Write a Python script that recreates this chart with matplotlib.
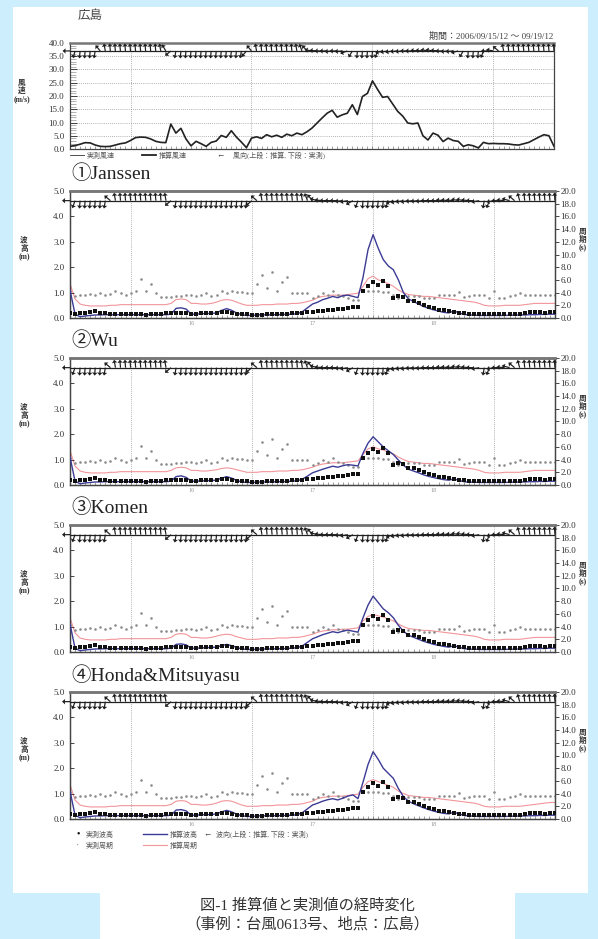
import numpy as np
import matplotlib.pyplot as plt
from matplotlib.patches import Rectangle
from matplotlib.ticker import MultipleLocator, FormatStrFormatter

plt.rcParams['font.family'] = ['Liberation Serif', 'Noto Sans CJK JP']

# time axis: hours from 2006/09/15 12:00
hours = list(range(97))
day_lines = [12, 36, 60, 84]
day_ticks = [24, 48, 72]
day_labels = ['16', '17', '18']

wind_speed = [1.0, 1.3, 1.8, 2.4, 2.3, 1.5, 1.0, 0.9, 1.0, 1.5,
              2.0, 2.3, 3.2, 4.3, 4.5, 4.4, 3.8, 2.9, 2.5, 2.4,
              9.4, 6.0, 7.8, 3.8, 1.2, 2.9, 2.0, 1.0, 2.5, 3.0,
              5.1, 4.4, 6.9, 4.5, 2.6, 0.5, 4.1, 4.6, 4.0, 5.4,
              4.6, 5.2, 4.4, 5.6, 5.0, 6.0, 5.4, 6.5, 7.9, 9.8,
              11.7, 13.5, 14.6, 12.0, 12.9, 13.5, 16.7, 13.0, 19.8, 21.0,
              25.7, 22.5, 19.5, 19.8, 17.0, 14.2, 12.4, 9.8, 9.5, 9.8,
              5.0, 3.4, 6.0, 5.2, 2.8, 4.1, 3.2, 2.9, 1.0, 1.6,
              1.2, 0.4, 2.5, 2.0, 2.1, 2.0, 2.0, 1.9, 1.6, 1.5,
              2.0, 2.5, 3.5, 4.5, 5.4, 5.0, 1.0]

# arrow directions (screen degrees the arrow points to)
wind_dir = [180,
            255, 265, 265, 265, 260,
            130, 100, 95, 95, 95, 95, 95, 95, 95, 95, 95, 95, 100, 120,
            220, 260, 265, 265, 265, 265, 265, 265, 265, 265, 265, 265, 265, 265, 260, 230,
            130, 100, 95, 95, 95, 95, 95, 95, 95, 100, 110, 130,
            170, 175, 180, 180, 185, 180, 185, 200,
            240, 265, 265, 265, 265, 250,
            195, 190, 190, 185, 185, 180, 180, 175, 175, 170, 170, 175, 180, 185, 185, 195,
            240, 265, 265, 265, 250,
            180, 170, 140,
            100, 95, 95, 95, 95, 95, 95, 95, 95, 95, 95]

wave_dir = [180,
            250, 265, 265, 265, 265, 265, 260,
            140,
            100, 95, 95, 95, 95, 95, 95, 95, 95, 95, 100,
            220,
            260, 265, 265, 265, 265, 265, 265, 265, 265, 265, 265, 265, 265, 265, 260,
            220, 140,
            100, 95, 95, 95, 95, 95, 95, 95, 100, 110, 130,
            165, 175, 180, 180, 180, 185, 190, 210,
            250, 265, 265, 265, 265, 265, 250,
            200, 195, 190, 190, 185, 185, 185, 180, 180, 180, 175, 175, 175, 170, 170, 175, 180, 190,
            260, 250,
            190, 180, 175, 165, 140,
            105, 95, 95, 95, 95, 95, 95, 95]

obs_height = [0.20, 0.17, 0.18, 0.20, 0.25, 0.28, 0.20, 0.18, 0.15, 0.15,
              0.14, 0.14, 0.15, 0.15, 0.14, 0.13, 0.14, 0.15, 0.16, 0.18,
              0.20, 0.20, 0.18, 0.18, 0.17, 0.16, 0.18, 0.18, 0.20, 0.21,
              0.24, 0.22, 0.20, 0.17, 0.15, 0.14, 0.12, 0.12, 0.13, 0.14,
              0.15, 0.15, 0.16, 0.17, 0.18, 0.18, 0.20, 0.22, 0.25, 0.26,
              0.28, 0.30, 0.32, 0.35, 0.37, 0.40, 0.42, 0.44, 1.05, 1.25,
              1.43, 1.28, 1.47, 1.26, 0.78, 0.85, 0.84, 0.68, 0.66, 0.60,
              0.50, 0.45, 0.38, 0.33, 0.30, 0.26, 0.24, 0.21, 0.18, 0.16,
              0.15, 0.15, 0.15, 0.15, 0.15, 0.15, 0.15, 0.15, 0.15, 0.15,
              0.18, 0.22, 0.22, 0.22, 0.21, 0.22, 0.22]

obs_period = [4.2, 3.4, 3.6, 3.7, 3.8, 3.6, 4.0, 3.7, 3.8, 4.2,
              3.9, 3.7, 3.9, 4.2, 6.1, 4.2, 5.3, 3.9, 3.3, 3.3,
              3.3, 3.5, 3.5, 3.7, 3.7, 3.5, 3.7, 3.9, 3.5, 3.7,
              4.2, 4.0, 4.2, 4.1, 4.1, 4.0, 4.0, 5.3, 6.7, 4.7,
              7.2, 4.2, 5.7, 6.5, 4.0, 4.0, 3.9, 3.9, 3.1, 3.4,
              3.9, 3.6, 4.2, 3.6, 3.4, 3.1, 2.9, 2.8, 4.2, 4.2,
              4.3, 4.2, 4.1, 4.1, 3.6, 3.1, 3.4, 3.4, 3.4, 3.4,
              3.2, 3.1, 3.2, 3.6, 3.6, 3.6, 3.7, 4.1, 3.3, 3.4,
              3.6, 3.6, 3.6, 3.2, 4.2, 3.2, 3.2, 3.4, 3.6, 3.9,
              3.6, 3.6, 3.6, 3.7, 3.6, 3.6, 3.6]

model_names = ['①Janssen', '②Wu', '③Komen', '④Honda&Mitsuyasu']

janssen_height = [1.10, 0.15, 0.05, 0.08, 0.10, 0.12, 0.12, 0.13, 0.13, 0.13,
                  0.13, 0.13, 0.13, 0.13, 0.13, 0.13, 0.13, 0.13, 0.13, 0.13,
                  0.15, 0.38, 0.40, 0.35, 0.15, 0.15, 0.17, 0.17, 0.18, 0.20,
                  0.30, 0.37, 0.30, 0.20, 0.13, 0.10, 0.10, 0.12, 0.13, 0.12,
                  0.13, 0.13, 0.14, 0.14, 0.15, 0.17, 0.25, 0.40, 0.55, 0.62,
                  0.72, 0.78, 0.85, 0.80, 0.88, 0.90, 0.85, 0.80, 1.60, 2.70,
                  3.28, 2.75, 2.30, 2.05, 1.90, 1.50, 1.00, 0.75, 0.65, 0.55,
                  0.45, 0.38, 0.32, 0.27, 0.22, 0.20, 0.28, 0.20, 0.14, 0.12,
                  0.11, 0.10, 0.10, 0.10, 0.10, 0.10, 0.10, 0.11, 0.11, 0.12,
                  0.12, 0.13, 0.13, 0.14, 0.14, 0.15, 0.15]
wu_height = [1.10, 0.15, 0.05, 0.08, 0.10, 0.12, 0.12, 0.13, 0.13, 0.13,
             0.13, 0.13, 0.13, 0.13, 0.13, 0.13, 0.13, 0.13, 0.13, 0.13,
             0.15, 0.33, 0.36, 0.30, 0.15, 0.15, 0.16, 0.17, 0.18, 0.19,
             0.27, 0.33, 0.27, 0.18, 0.12, 0.10, 0.10, 0.11, 0.12, 0.12,
             0.12, 0.13, 0.13, 0.14, 0.15, 0.17, 0.23, 0.35, 0.48, 0.55,
             0.62, 0.68, 0.74, 0.70, 0.76, 0.80, 0.78, 0.75, 1.25, 1.65,
             1.90, 1.70, 1.50, 1.35, 1.20, 0.98, 0.78, 0.62, 0.55, 0.48,
             0.40, 0.34, 0.29, 0.25, 0.21, 0.19, 0.24, 0.18, 0.13, 0.11,
             0.11, 0.10, 0.10, 0.10, 0.10, 0.10, 0.10, 0.11, 0.11, 0.12,
             0.12, 0.13, 0.13, 0.14, 0.14, 0.15, 0.15]
komen_height = [1.10, 0.15, 0.05, 0.08, 0.10, 0.12, 0.12, 0.13, 0.13, 0.13,
                0.13, 0.13, 0.13, 0.13, 0.13, 0.13, 0.13, 0.13, 0.13, 0.13,
                0.15, 0.30, 0.32, 0.28, 0.15, 0.15, 0.16, 0.17, 0.18, 0.19,
                0.25, 0.30, 0.25, 0.18, 0.12, 0.10, 0.10, 0.11, 0.12, 0.12,
                0.12, 0.13, 0.13, 0.14, 0.15, 0.17, 0.24, 0.38, 0.52, 0.60,
                0.68, 0.74, 0.80, 0.76, 0.82, 0.86, 0.82, 0.78, 1.35, 1.85,
                2.20, 1.95, 1.70, 1.55, 1.35, 1.05, 0.82, 0.66, 0.58, 0.50,
                0.42, 0.36, 0.30, 0.26, 0.22, 0.19, 0.25, 0.19, 0.13, 0.11,
                0.11, 0.10, 0.10, 0.10, 0.10, 0.10, 0.10, 0.11, 0.11, 0.12,
                0.12, 0.13, 0.13, 0.14, 0.14, 0.15, 0.15]
honda_height = [1.10, 0.15, 0.05, 0.08, 0.10, 0.12, 0.12, 0.13, 0.13, 0.13,
                0.13, 0.13, 0.13, 0.13, 0.13, 0.13, 0.13, 0.13, 0.13, 0.13,
                0.15, 0.35, 0.37, 0.32, 0.15, 0.15, 0.17, 0.17, 0.18, 0.20,
                0.28, 0.34, 0.28, 0.19, 0.13, 0.10, 0.10, 0.12, 0.13, 0.12,
                0.13, 0.13, 0.14, 0.14, 0.15, 0.17, 0.25, 0.40, 0.55, 0.62,
                0.70, 0.76, 0.80, 0.75, 0.82, 0.90, 0.95, 0.80, 1.45, 2.15,
                2.65, 2.35, 2.00, 1.80, 1.60, 1.20, 0.88, 0.70, 0.60, 0.52,
                0.44, 0.37, 0.31, 0.26, 0.22, 0.20, 0.27, 0.20, 0.14, 0.12,
                0.11, 0.10, 0.10, 0.10, 0.10, 0.10, 0.10, 0.11, 0.11, 0.12,
                0.12, 0.13, 0.13, 0.14, 0.14, 0.15, 0.15]

janssen_period = [5.4, 3.0, 2.2, 2.0, 1.9, 1.9, 1.9, 1.9, 2.0, 2.0,
                  2.1, 2.1, 2.1, 2.1, 2.1, 2.1, 2.1, 2.1, 2.1, 2.1,
                  2.3, 2.9, 3.0, 2.9, 2.3, 2.3, 2.2, 2.2, 2.3, 2.5,
                  2.8, 2.9, 2.8, 2.5, 2.2, 2.0, 2.0, 2.0, 2.1, 2.1,
                  2.1, 2.2, 2.2, 2.2, 2.3, 2.3, 2.4, 2.6, 2.8, 3.2,
                  3.4, 3.5, 3.6, 3.6, 3.6, 3.7, 3.8, 3.9, 5.0, 6.2,
                  6.6, 6.0, 5.8, 5.4, 5.0, 4.4, 4.0, 3.7, 3.6, 3.5,
                  3.4, 3.4, 3.3, 3.2, 3.1, 3.0, 2.9, 2.8, 2.7, 2.6,
                  2.5, 2.3, 2.0, 1.9, 1.9, 1.9, 2.0, 2.0, 2.0, 2.0,
                  2.1, 2.2, 2.3, 2.3, 2.3, 2.3, 2.3]
wu_period = [5.4, 3.0, 2.2, 2.0, 1.9, 1.9, 1.9, 1.9, 2.0, 2.0,
             2.1, 2.1, 2.1, 2.1, 2.1, 2.1, 2.1, 2.1, 2.1, 2.1,
             2.3, 2.7, 2.8, 2.7, 2.3, 2.3, 2.2, 2.2, 2.3, 2.4,
             2.6, 2.7, 2.6, 2.4, 2.2, 2.0, 2.0, 2.0, 2.1, 2.1,
             2.1, 2.2, 2.2, 2.2, 2.3, 2.3, 2.4, 2.6, 2.8, 3.1,
             3.3, 3.4, 3.5, 3.5, 3.5, 3.6, 3.7, 3.8, 4.8, 5.7,
             6.0, 5.7, 5.5, 5.2, 4.9, 4.4, 4.0, 3.7, 3.6, 3.5,
             3.4, 3.4, 3.3, 3.2, 3.1, 3.0, 2.9, 2.8, 2.7, 2.6,
             2.5, 2.3, 2.0, 1.9, 1.9, 1.9, 2.0, 2.0, 2.0, 2.0,
             2.1, 2.2, 2.3, 2.3, 2.3, 2.3, 2.3]
komen_period = [5.4, 3.0, 2.2, 2.0, 1.9, 1.9, 1.9, 1.9, 2.0, 2.0,
                2.1, 2.1, 2.1, 2.1, 2.1, 2.1, 2.1, 2.1, 2.1, 2.1,
                2.3, 2.8, 2.9, 2.8, 2.3, 2.3, 2.2, 2.2, 2.3, 2.5,
                2.7, 2.8, 2.7, 2.4, 2.2, 2.0, 2.0, 2.0, 2.1, 2.1,
                2.1, 2.2, 2.2, 2.2, 2.3, 2.3, 2.4, 2.6, 2.8, 3.1,
                3.3, 3.4, 3.5, 3.5, 3.6, 3.6, 3.7, 3.8, 4.9, 5.6,
                5.9, 5.7, 5.5, 5.2, 4.9, 4.4, 4.0, 3.7, 3.6, 3.5,
                3.4, 3.4, 3.3, 3.2, 3.1, 3.0, 2.9, 2.8, 2.7, 2.6,
                2.5, 2.3, 2.0, 1.9, 1.9, 1.9, 2.0, 2.0, 2.0, 2.0,
                2.1, 2.2, 2.3, 2.3, 2.3, 2.3, 2.3]
honda_period = [5.4, 3.0, 2.2, 2.0, 1.9, 1.9, 1.9, 1.9, 2.0, 2.0,
                2.1, 2.1, 2.1, 2.1, 2.1, 2.1, 2.1, 2.1, 2.1, 2.1,
                2.3, 2.8, 2.9, 2.8, 2.3, 2.3, 2.2, 2.2, 2.3, 2.5,
                2.8, 2.9, 2.8, 2.5, 2.2, 2.0, 2.0, 2.0, 2.1, 2.1,
                2.1, 2.2, 2.2, 2.2, 2.3, 2.3, 2.4, 2.6, 2.8, 3.2,
                3.4, 3.5, 3.6, 3.6, 3.6, 3.7, 3.8, 3.9, 5.0, 5.9,
                6.2, 5.9, 5.6, 5.3, 5.0, 4.4, 4.0, 3.7, 3.6, 3.5,
                3.4, 3.4, 3.3, 3.2, 3.1, 3.0, 2.9, 2.8, 2.7, 2.6,
                2.5, 2.3, 2.0, 1.9, 1.9, 1.9, 2.0, 2.0, 2.0, 2.0,
                2.1, 2.2, 2.3, 2.4, 2.5, 2.6, 2.6]

model_heights = [janssen_height, wu_height, komen_height, honda_height]
model_periods = [janssen_period, wu_period, komen_period, honda_period]

# ---- figure in pixel coordinates ----
W, H = 598, 939
fig = plt.figure(figsize=(W / 100, H / 100), dpi=100, facecolor='#cdeefd')


def box(l, t, r, b):
    return [l / W, 1 - b / H, (r - l) / W, (b - t) / H]


def ftext(x, y, s, **kw):
    fig.text(x / W, 1 - y / H, s, **kw)


def white(l, t, r, b):
    fig.add_artist(Rectangle((l / W, 1 - b / H), (r - l) / W, (b - t) / H,
                             transform=fig.transFigure, facecolor='white',
                             edgecolor='none', zorder=-5))


white(13, 7, 588, 893)
white(100, 890, 515, 939)

GRID = dict(color='#999999', lw=0.6, linestyle=(0, (1, 1.5)), zorder=1)


def arrows(ax, base, deg, length):
    ang = np.deg2rad(deg)
    u = length * np.cos(ang)
    v = length * np.sin(ang)
    ax.plot(hours, np.full(len(hours), base), color='#222222', lw=0.9, zorder=4)
    # thin shafts give the hatching, the wide heads merge into a heavy edge
    ax.quiver(hours, np.full(len(hours), base), u, v, angles='uv',
              scale_units='dots', scale=1, units='dots', width=1.2,
              headwidth=4.5, headlength=2.6, headaxislength=2.4, pivot='tail',
              color='#1e1e1e', zorder=4, clip_on=False)


def frame(ax):
    for s in ax.spines.values():
        s.set_color('#444444')
        s.set_linewidth(0.9)
    ax.spines['top'].set_linewidth(1.8)
    ax.spines['top'].set_color('#777777')


# ---- wind panel ----
ftext(78, 16, '広島', fontsize=9, color='#444444', va='center')
ftext(553, 36, '期間：2006/09/15/12 ～ 09/19/12', fontsize=6.5, color='#444444',
      ha='right', va='center')

axw = fig.add_axes(box(70, 43, 554, 149))
axw.plot(hours, wind_speed, color='#222222', lw=1.2, zorder=3)
arrows(axw, 37.0, wind_dir, 7.5)
axw.set_xlim(0, 96)
axw.set_ylim(0, 40)
for v in range(5, 40, 5):
    axw.axhline(v, **GRID)
for d in day_lines:
    axw.axvline(d, **GRID)
axw.yaxis.set_major_locator(MultipleLocator(5))
axw.yaxis.set_major_formatter(FormatStrFormatter('%.1f'))
axw.yaxis.set_minor_locator(MultipleLocator(1))
axw.tick_params(axis='y', which='major', direction='in', length=5, width=0.5,
                labelsize=6.5, labelcolor='#333333', pad=4)
axw.tick_params(axis='y', which='minor', direction='in', length=4, width=0.4,
                color='#777777')
axw.set_xticks([])
axw.set_xticks(hours, minor=True)
axw.tick_params(axis='x', which='minor', direction='in', length=2, width=0.4,
                color='#555555')
frame(axw)
ftext(22, 91, '風\n速\n(m/s)', fontsize=5.5, color='#333333', ha='center',
      va='center', linespacing=1.05, fontweight='bold')

# wind legend
lg_y = 155
fig.add_artist(plt.Line2D([70 / W, 84 / W], [1 - lg_y / H] * 2, color='#333333', lw=0.6))
ftext(87, lg_y, '実測風速', fontsize=5, color='#555555', va='center')
fig.add_artist(plt.Line2D([142 / W, 156 / W], [1 - lg_y / H] * 2, color='#222222', lw=1.3))
ftext(159, lg_y, '推算風速', fontsize=5, color='#555555', va='center')
ftext(216, lg_y, '←', fontsize=6, color='#222222', va='center')
ftext(233, lg_y, '風向(上段：推算, 下段：実測)', fontsize=5, color='#555555', va='center')

# ---- wave panels ----
panel_tops = [191, 358, 525, 692]
for name, top, hgt, per in zip(model_names, panel_tops, model_heights, model_periods):
    bottom = top + 127
    ftext(71, top - 17, name, fontsize=14, color='#222222', va='center')
    ax = fig.add_axes(box(70, top, 555, bottom))
    ax2 = ax.twinx()
    for d in day_lines:
        ax.axvline(d, **GRID)
    ax2.plot(hours, per, color='#f2959a', lw=0.8, zorder=2)
    ax2.scatter(hours, obs_period, s=3.5, color='#8c8c8c', zorder=2, linewidths=0)
    ax.plot(hours, hgt, color='#3b3b95', lw=1.0, zorder=3)
    ax.scatter(hours, obs_height, s=8, marker='s', color='#111111', zorder=3, linewidths=0)
    arrows(ax, 4.62, wave_dir, 8)
    ax.set_xlim(0, 96)
    ax.set_ylim(0, 5)
    ax2.set_ylim(0, 20)
    ax.set_zorder(ax2.get_zorder() + 1)
    ax.patch.set_visible(False)
    ax2.patch.set_facecolor('white')
    ax.yaxis.set_major_locator(MultipleLocator(1))
    ax.yaxis.set_major_formatter(FormatStrFormatter('%.1f'))
    ax.tick_params(axis='y', direction='in', length=3, width=0.5, labelsize=6.5,
                   labelcolor='#333333', pad=4)
    ax2.yaxis.set_major_locator(MultipleLocator(2))
    ax2.yaxis.set_major_formatter(FormatStrFormatter('%.1f'))
    ax2.tick_params(axis='y', direction='out', length=3, width=0.5, labelsize=6.5,
                    labelcolor='#333333', pad=1)
    ax.set_xticks(day_ticks)
    ax.set_xticklabels(day_labels)
    ax.set_xticks(hours, minor=True)
    ax.tick_params(axis='x', which='major', length=0, labelsize=4.5, labelcolor='#999999', pad=2)
    ax.tick_params(axis='x', which='minor', direction='in', length=2, width=0.4,
                   color='#555555')
    frame(ax)
    frame(ax2)
    ftext(24, top + 58, '波\n高\n(m)', fontsize=5.5, color='#333333', ha='center',
          va='center', linespacing=1.05, fontweight='bold')
    ftext(583, top + 49, '周\n期\n(s)', fontsize=5.5, color='#333333', ha='center',
          va='center', linespacing=1.05, fontweight='bold')

# ---- bottom legend ----
r1, r2 = 834, 845
ftext(78, r1, '•', fontsize=7, color='#111111', ha='center', va='center')
ftext(86, r1, '実測波高', fontsize=5, color='#555555', va='center')
fig.add_artist(plt.Line2D([143 / W, 167 / W], [1 - r1 / H] * 2, color='#3b3b95', lw=1.0))
ftext(170, r1, '推算波高', fontsize=5, color='#555555', va='center')
ftext(203, r1, '←', fontsize=6, color='#222222', va='center')
ftext(216, r1, '波向(上段：推算, 下段：実測)', fontsize=5, color='#555555', va='center')
ftext(78, r2, '·', fontsize=7, color='#8c8c8c', ha='center', va='center')
ftext(86, r2, '実測周期', fontsize=5, color='#555555', va='center')
fig.add_artist(plt.Line2D([143 / W, 167 / W], [1 - r2 / H] * 2, color='#f2959a', lw=0.8))
ftext(170, r2, '推算周期', fontsize=5, color='#555555', va='center')

# ---- caption ----
ftext(307, 906, '図-1 推算値と実測値の経時変化', fontsize=11, color='#333333',
      ha='center', va='center')
ftext(307, 924, '（事例：台風0613号、地点：広島）', fontsize=11, color='#333333',
      ha='center', va='center')

fig.savefig('out.png', dpi=100, facecolor=fig.get_facecolor())
